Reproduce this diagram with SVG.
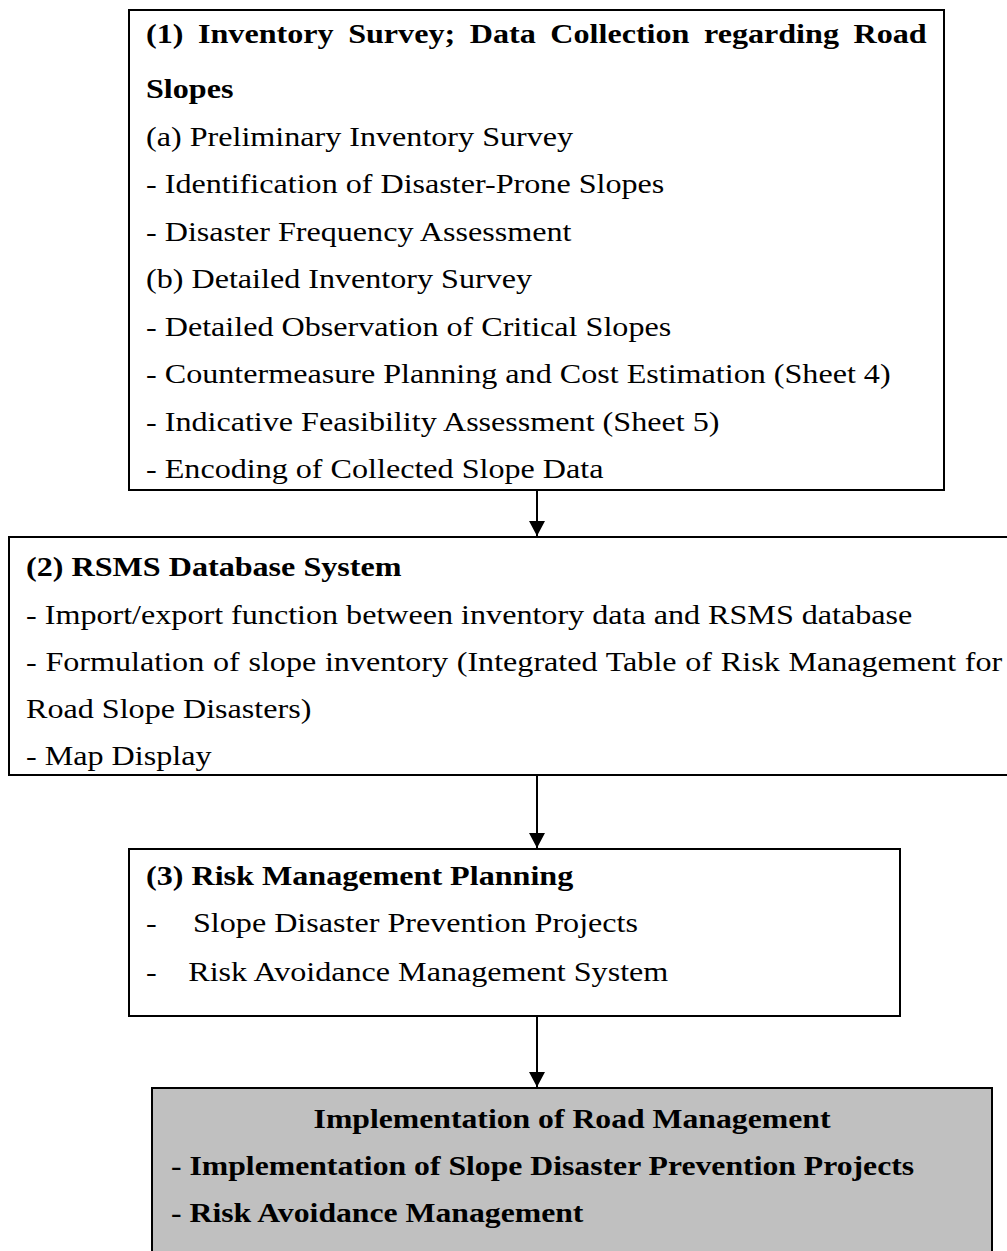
<svg xmlns="http://www.w3.org/2000/svg" width="1007" height="1251" viewBox="0 0 1007 1251">
  <style>
    .box { fill: #ffffff; stroke: #000000; stroke-width: 2; }
    .box.final { fill: #c0c0c0; }
    .t { font-family: "Liberation Serif", "Times New Roman", serif; font-size: 27px; fill: #000000; }
    .b { font-weight: bold; }
    .link { stroke: #000000; stroke-width: 2; fill: none; }
  </style>
  <defs>
    <marker id="arrow" markerWidth="16" markerHeight="16" refX="15" refY="8" orient="auto" markerUnits="userSpaceOnUse">
      <path d="M0,0 L15,8 L0,16 Z" fill="#000000"/>
    </marker>
  </defs>
  <rect width="1007" height="1251" fill="#ffffff"/>

  <!-- step 1: inventory survey -->
  <g id="node-inventory">
    <rect class="box" x="129" y="10" width="815" height="480"/>
    <g transform="translate(146,0) scale(1.19,1)">
      <text class="t b" x="0" y="43" word-spacing="5.5">(1) Inventory Survey; Data Collection regarding Road</text>
      <text class="t b" x="0" y="98">Slopes</text>
      <text class="t" x="0" y="146">(a) Preliminary Inventory Survey</text>
      <text class="t" x="0" y="193">- Identification of Disaster-Prone Slopes</text>
      <text class="t" x="0" y="241">- Disaster Frequency Assessment</text>
      <text class="t" x="0" y="288">(b) Detailed Inventory Survey</text>
      <text class="t" x="0" y="336">- Detailed Observation of Critical Slopes</text>
      <text class="t" x="0" y="383">- Countermeasure Planning and Cost Estimation (Sheet 4)</text>
      <text class="t" x="0" y="431">- Indicative Feasibility Assessment (Sheet 5)</text>
      <text class="t" x="0" y="478">- Encoding of Collected Slope Data</text>
    </g>
  </g>

  <!-- step 2: RSMS database -->
  <g id="node-database">
    <rect class="box" x="9" y="537" width="1010" height="238"/>
    <g transform="translate(26,0) scale(1.19,1)">
      <text class="t b" x="0" y="576">(2) RSMS Database System</text>
      <text class="t" x="0" y="624">- Import/export function between inventory data and RSMS database</text>
      <text class="t" x="0" y="671" word-spacing="0.6">- Formulation of slope inventory (Integrated Table of Risk Management for</text>
      <text class="t" x="0" y="718">Road Slope Disasters)</text>
      <text class="t" x="0" y="765">- Map Display</text>
    </g>
  </g>

  <!-- step 3: risk management planning -->
  <g id="node-planning">
    <rect class="box" x="129" y="849" width="771" height="167"/>
    <g transform="translate(146,0) scale(1.19,1)">
      <text class="t b" x="0" y="885">(3) Risk Management Planning</text>
      <text class="t" x="0" y="932">-</text>
      <text class="t" x="39.5" y="932">Slope Disaster Prevention Projects</text>
      <text class="t" x="0" y="981">-</text>
      <text class="t" x="35.5" y="981">Risk Avoidance Management System</text>
    </g>
  </g>

  <!-- outcome: implementation -->
  <g id="node-implementation">
    <rect class="box final" x="152" y="1088" width="840" height="180"/>
    <g transform="translate(572,0) scale(1.175,1)">
      <text class="t b" x="0" y="1128" text-anchor="middle">Implementation of Road Management</text>
    </g>
    <g transform="translate(171,0) scale(1.175,1)">
      <text class="t b" x="0" y="1175">- Implementation of Slope Disaster Prevention Projects</text>
      <text class="t b" x="0" y="1222">- Risk Avoidance Management</text>
    </g>
  </g>

  <!-- connectors -->
  <g id="connectors">
    <line class="link" x1="537" y1="490" x2="537" y2="536" marker-end="url(#arrow)"/>
    <line class="link" x1="537" y1="775" x2="537" y2="848" marker-end="url(#arrow)"/>
    <line class="link" x1="537" y1="1016" x2="537" y2="1087" marker-end="url(#arrow)"/>
  </g>
</svg>
